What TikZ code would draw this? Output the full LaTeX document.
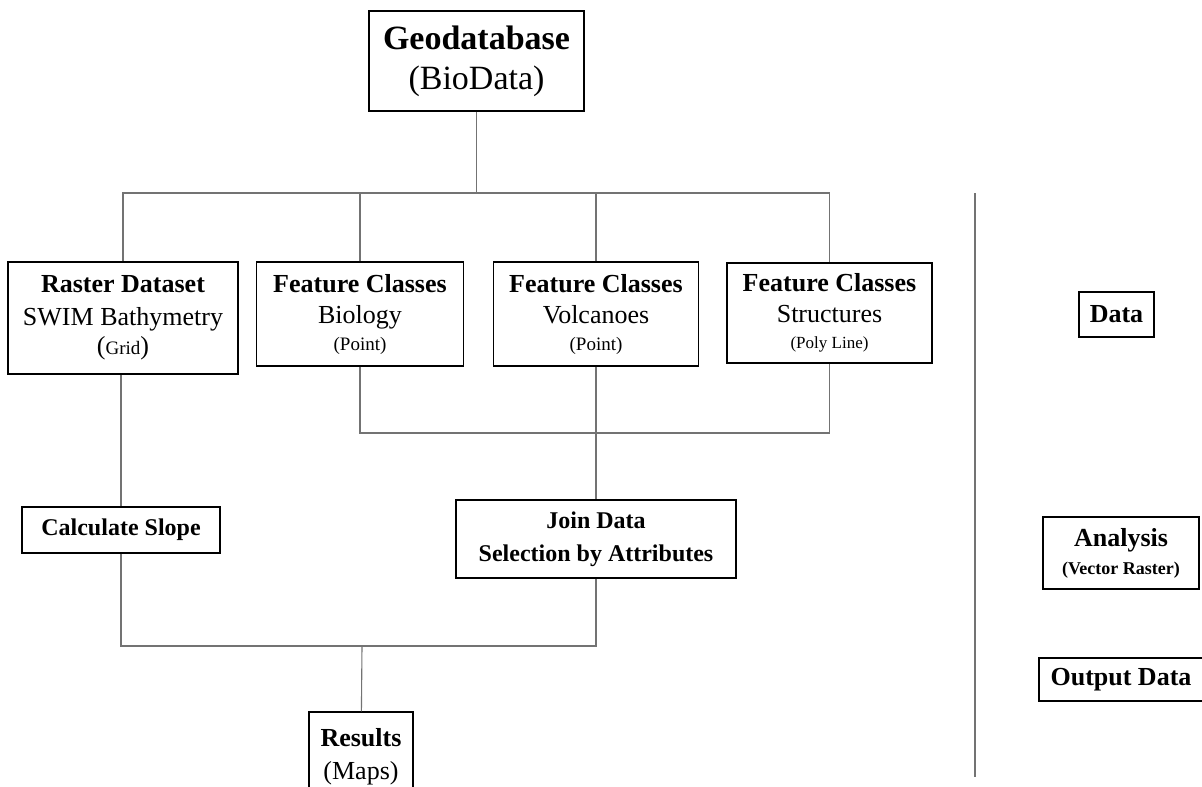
\documentclass[tikz,border=0pt]{standalone}
\usepackage{fontspec}
\setmainfont{Liberation Serif}
\usetikzlibrary{positioning,calc}

\tikzset{
  databox/.style={draw=black,line width=1.4pt,inner sep=0pt,align=center,
    font=\fontsize{26}{31}\selectfont},
  wire/.style={draw=black!55,line width=1.1pt},
}
\newcommand{\subtext}[1]{{\fontsize{19}{22}\selectfont #1}}

\begin{document}
\begin{tikzpicture}[x=1pt,y=-1pt]
  \useasboundingbox (0,0) rectangle (1202,787); % 画像全体の範囲
  \node[databox,minimum width=215,minimum height=100,
    font=\fontsize{34}{40}\selectfont] (geo) at (476.5,61)
    {\textbf{Geodatabase}\\(BioData)}; % 最上段のジオデータベース
  \node[databox,minimum width=230,minimum height=112] (raster) at (123,318)
    {\textbf{Raster Dataset}\\[2pt]SWIM Bathymetry\\[-2pt](\subtext{Grid})}; % ラスタ
  \node[databox,minimum width=207,minimum height=104] (biology) at (360,314)
    {\textbf{Feature Classes}\\Biology\\[-4pt]\subtext{(Point)}}; % 生物
  \node[databox,minimum width=205,minimum height=104] (volcano) at (596,314)
    {\textbf{Feature Classes}\\Volcanoes\\[-4pt]\subtext{(Point)}}; % 火山
  \node[databox,minimum width=205,minimum height=100] (structs) at (829.5,313)
    {\textbf{Feature Classes}\\Structures\\[-5pt]{\fontsize{17}{20}\selectfont(Poly Line)}}; % 構造
  \node[databox,minimum width=198,minimum height=46,
    font=\fontsize{24}{29}\selectfont\bfseries] (slope) at (121,530)
    {Calculate Slope}; % 傾斜の計算
  \node[databox,minimum width=280,minimum height=78,
    font=\fontsize{24}{33}\selectfont\bfseries] (join) at (596,539)
    {Join Data\\Selection by Attributes}; % 結合と属性選択
  \node[databox,minimum width=104,minimum height=90,
    font=\fontsize{26}{33}\selectfont] (results) at (361,757)
    {\textbf{Results}\\(Maps)}; % 結果（下端は切れる）
  \node[databox,minimum width=75,minimum height=45,font=\fontsize{26}{31}\selectfont\bfseries]
    (dataLbl) at (1116.5,314.5) {Data}; % 右側の凡例
  \node[databox,minimum width=156,minimum height=72,font=\fontsize{26}{28}\selectfont\bfseries]
    (analysisLbl) at (1121,553) {Analysis\\{\fontsize{18}{20}\selectfont(Vector Raster)}};
  \node[databox,minimum width=164,minimum height=43,font=\fontsize{26}{31}\selectfont\bfseries]
    (outputLbl) at (1121,679.5) {Output Data};

  \coordinate (busTop) at (476.5,193); % 上の分岐線
  \coordinate (mergeA) at (596,433); % 特徴クラスの合流点
  \coordinate (mergeB) at (362,646); % 下の合流点

  \draw[wire] (geo) -- (busTop);
  \draw[wire] (raster) |- (busTop) -| (structs);
  \draw[wire] (biology) -- (biology |- busTop);
  \draw[wire] (volcano) -- (volcano |- busTop);
  \draw[wire] (biology) |- (mergeA) -| (structs);
  \draw[wire] (volcano) -- (join);
  \draw[wire] (slope) -- (slope |- raster.south);
  \draw[wire] (slope) |- (mergeB) -| (join);
  \draw[wire] (mergeB) -- (results);
  \draw[wire] (975,193) -- (975,777); % 区切りの縦線
\end{tikzpicture}
\end{document}
